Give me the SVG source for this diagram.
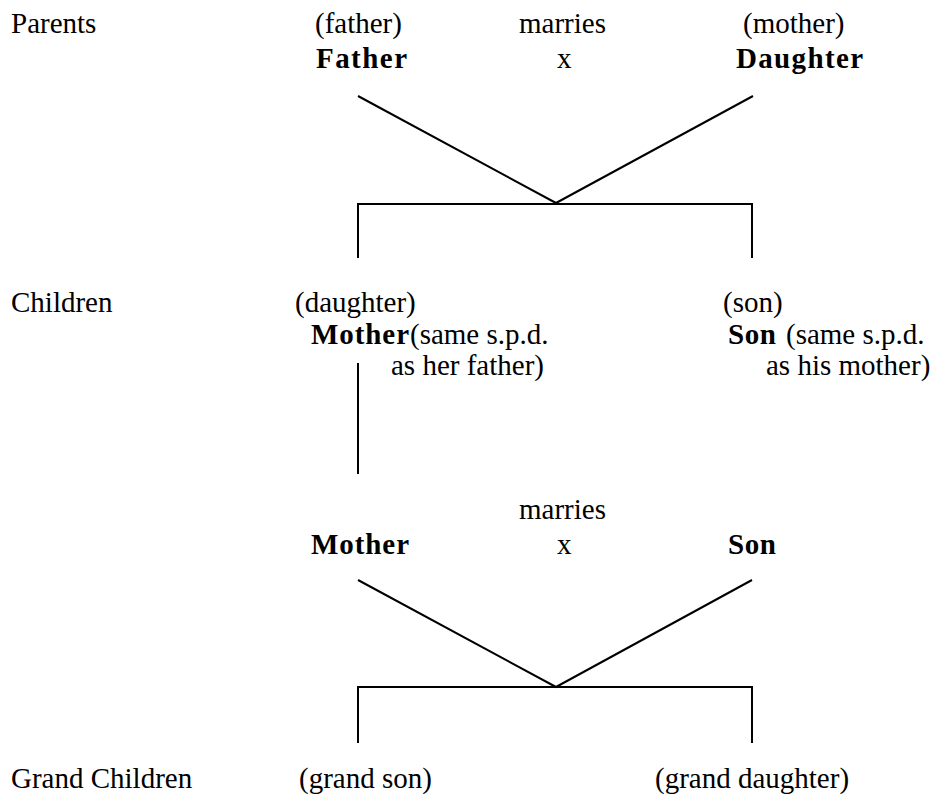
<svg xmlns="http://www.w3.org/2000/svg" width="939" height="798" viewBox="0 0 939 798">
<style>
text{font-family:"Liberation Serif","Times New Roman",serif;font-size:29px;fill:#000}
.b{font-weight:bold}
.c{stroke:#000;stroke-width:2;fill:none}
</style>
<rect width="939" height="798" fill="#fff"/>
<g id="labels">
<text x="11" y="33">Parents</text>
<text x="11" y="312">Children</text>
<text x="11" y="788">Grand Children</text>
</g>
<g id="father"><text x="315" y="33">(father)</text><text class="b" x="316" y="68" textLength="91" lengthAdjust="spacing">Father</text></g>
<g id="marries1"><text x="519" y="33">marries</text><text x="557" y="68">x</text></g>
<g id="daughter"><text x="743" y="33">(mother)</text><text class="b" x="736" y="68" textLength="127" lengthAdjust="spacing">Daughter</text></g>
<g id="mother-child"><text x="295" y="312">(daughter)</text><text class="b" x="311" y="344" textLength="98" lengthAdjust="spacing">Mother</text><text x="410" y="344">(same s.p.d.</text><text x="391" y="375">as her father)</text></g>
<g id="son-child"><text x="723" y="312">(son)</text><text class="b" x="728" y="344" textLength="48" lengthAdjust="spacing">Son</text><text x="786" y="344">(same s.p.d.</text><text x="766" y="375">as his mother)</text></g>
<g id="mother2"><text class="b" x="311" y="554" textLength="98" lengthAdjust="spacing">Mother</text></g>
<g id="marries2"><text x="519" y="519">marries</text><text x="557" y="554">x</text></g>
<g id="son2"><text class="b" x="728" y="554" textLength="48" lengthAdjust="spacing">Son</text></g>
<g id="grandson"><text x="299" y="788">(grand son)</text></g>
<g id="granddaughter"><text x="655" y="788">(grand daughter)</text></g>
<g id="connectors" class="c">
<path d="M358 96 L556 203 L753 96"/>
<path d="M358 258 V204 H752 V258"/>
<path d="M358 363 V474"/>
<path d="M358 580 L556 687 L752 580"/>
<path d="M358 743 V687 H752 V743"/>
</g>
</svg>
